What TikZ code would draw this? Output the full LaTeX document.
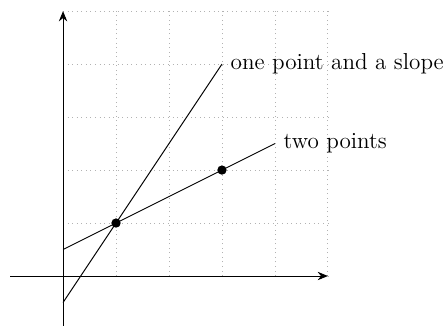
\documentclass[tikz,border=0pt]{standalone}
\usetikzlibrary{arrows.meta}
\begin{document}
\begin{tikzpicture}[
  gridline/.style={gray!60, dotted, line width=0.45pt},
  axis/.style={line width=0.5pt, -{Stealth[length=5.5pt,width=4.5pt]}},
  curve/.style={line width=0.5pt},
  dot/.style={circle, fill=black, inner sep=0pt, minimum size=5pt},
  lbl/.style={anchor=west, font=\fontsize{12.4}{15}\selectfont, inner sep=4.5pt}
]
\useasboundingbox (-1.19,-0.925) rectangle (7.21,5.21);
\draw[gridline] (0,0) grid (5,5);
\coordinate (xs) at (-1,0);
\coordinate (xe) at (5,0);
\coordinate (ys) at (0,-1);
\coordinate (ye) at (0,5);
\draw[axis] (xs) -- (xe);
\draw[axis] (ys) -- (ye);
\coordinate (a0) at (0,0.5);
\coordinate (a1) at (4,2.5);
\coordinate (b0) at (0,-0.5);
\coordinate (b1) at (3,4);
\draw[curve] (a0) -- (a1);
\draw[curve] (b0) -- (b1);
\node[dot] (p) at (1,1) {};
\node[dot] (q) at (3,2) {};
\node[lbl] (l1) at (b1) {one point and a slope};
\node[lbl] (l2) at (a1) {two points};
\end{tikzpicture}
\end{document}
